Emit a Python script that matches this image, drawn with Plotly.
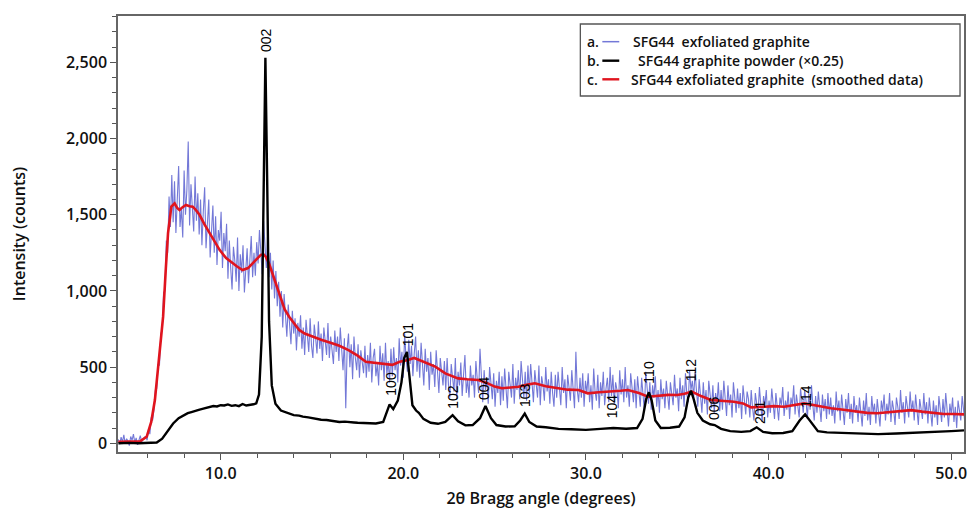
import numpy as np
import plotly.graph_objects as go

# ---------------- data ----------------
# a. SFG44 exfoliated graphite (raw scan, 2theta step 0.075 deg starting at 4.40 deg)
blue_start = 4.40
blue_step = 0.075
blue_y = [
    25, -5, 40, 10, 55, 0, 30, 15, -15, 45, 20, 60, 5, 35, -10, 25, 50, 10, 30, 40,
    45, 20, 90, 60, 170, 150, 220, 350, 360, 520, 510, 720, 740, 990, 1000, 1330, 1250, 1620, 1420, 1760,
    1450, 1720, 1380, 1600, 1820, 1420, 1540, 1350, 1790, 1500, 1660, 1980, 1430, 1700, 1520, 1390, 1750, 1460, 1640, 1370,
    1600, 1300, 1520, 1680, 1280, 1450, 1600, 1220, 1380, 1560, 1250, 1490, 1170, 1400, 1330, 1520, 1150, 1380, 1260, 1440,
    1080, 1330, 1150, 1010, 1290, 1200, 1060, 1350, 1000, 1240, 1120, 1300, 990, 1180, 1280, 1050, 1210, 1360, 1090, 1250,
    1100, 1320, 1180, 1400, 1260, 1110, 1460, 1300, 1150, 1380, 1090, 1250, 1010, 1200, 950, 1130, 900, 1060, 830, 1000,
    760, 980, 830, 700, 910, 780, 650, 870, 720, 820, 610, 790, 700, 840, 620, 760, 580, 810, 690, 600,
    820, 640, 560, 780, 690, 590, 800, 620, 720, 540, 760, 650, 580, 790, 560, 700, 620, 520, 740, 600,
    700, 540, 760, 600, 480, 690, 230, 620, 720, 500, 650, 420, 700, 560, 480, 650, 430, 610, 510, 460,
    640, 430, 580, 470, 660, 400, 560, 620, 440, 520, 380, 640, 480, 590, 410, 660, 450, 540, 400, 620,
    440, 630, 480, 560, 400, 690, 510, 600, 430, 720, 560, 470, 680, 520, 640, 440, 590, 700, 470, 610,
    430, 660, 520, 380, 620, 470, 560, 350, 600, 450, 520, 370, 610, 430, 330, 560, 470, 380, 540, 350,
    560, 380, 300, 520, 430, 340, 560, 290, 470, 380, 530, 310, 450, 580, 330, 420, 300, 510, 380, 450,
    300, 540, 420, 330, 620, 380, 270, 480, 350, 430, 260, 500, 360, 290, 460, 240, 410, 330, 470, 250,
    440, 280, 490, 340, 230, 470, 380, 300, 520, 260, 430, 350, 480, 290, 540, 390, 300, 470, 280, 510,
    330, 520, 410, 270, 480, 360, 300, 510, 250, 440, 380, 280, 500, 340, 420, 260, 470, 330, 240, 450,
    300, 470, 380, 250, 500, 330, 420, 230, 450, 360, 280, 480, 320, 230, 600, 350, 270, 430, 300, 460,
    240, 410, 330, 460, 270, 380, 220, 490, 340, 280, 450, 230, 400, 310, 470, 250, 360, 430, 270, 500,
    310, 450, 260, 400, 350, 230, 480, 320, 420, 270, 500, 300, 380, 240, 460, 330, 270, 420, 230, 440,
    350, 240, 430, 300, 210, 470, 330, 260, 400, 220, 380, 300, 440, 240, 350, 200, 420, 290, 360, 230,
    410, 280, 220, 400, 330, 250, 450, 300, 360, 210, 430, 290, 380, 240, 460, 320, 270, 480, 350, 410,
    300, 470, 350, 240, 420, 310, 200, 400, 260, 350, 190, 410, 300, 230, 380, 200, 330, 260, 400, 210,
    350, 220, 410, 290, 180, 380, 250, 320, 170, 400, 280, 200, 360, 230, 330, 160, 380, 260, 190, 340,
    290, 170, 350, 230, 150, 330, 260, 190, 370, 220, 140, 310, 250, 350, 170, 280, 200, 360, 230, 160,
    330, 210, 150, 300, 250, 370, 180, 280, 220, 340, 160, 300, 250, 380, 190, 320, 230, 170, 360, 260,
    200, 350, 280, 160, 330, 220, 380, 250, 150, 310, 200, 340, 240, 140, 320, 210, 290, 160, 330, 190,
    300, 180, 250, 130, 340, 210, 280, 150, 320, 230, 120, 290, 200, 330, 160, 260, 130, 310, 200, 250,
    140, 300, 220, 110, 280, 180, 330, 150, 240, 120, 310, 200, 260, 130, 290, 170, 110, 280, 210, 320,
    150, 260, 190, 330, 140, 280, 220, 120, 300, 240, 160, 350, 200, 270, 130, 310, 230, 170, 340, 210,
    280, 150, 320, 200, 120, 290, 230, 160, 330, 190, 270, 130, 300, 210, 110, 280, 170, 250, 120, 310,
    200, 140, 290, 170, 330, 230, 110, 260, 190, 300, 140, 240, 100, 280, 200, 150, 310, 220, 130, 260,
]

# b. SFG44 graphite powder (x0.25)
black_pts = [
    (4.4, 0), (5.0, 3), (5.5, 0), (6.0, 3), (6.5, 5), (6.8, 30), (7.1, 80),
    (7.4, 130), (7.7, 165), (8.0, 185), (8.2, 198), (8.4, 205), (8.6, 214),
    (8.8, 220), (9.0, 226), (9.2, 232), (9.4, 238), (9.6, 245), (9.8, 242),
    (10.0, 250), (10.2, 248), (10.4, 255), (10.6, 246), (10.8, 250),
    (11.0, 244), (11.2, 258), (11.4, 248), (11.6, 250), (11.8, 256),
    (11.95, 262), (12.1, 320), (12.25, 700), (12.35, 1500), (12.45, 2530),
    (12.55, 1700), (12.65, 800), (12.8, 380), (13.0, 260), (13.3, 215),
    (13.6, 200), (14.0, 185), (14.3, 182), (14.5, 175), (14.8, 170), (15.0, 165),
    (15.3, 160), (15.5, 155), (15.8, 153), (16.0, 150), (16.3, 146), (16.5, 140),
    (16.8, 142), (17.0, 138), (17.3, 137), (17.5, 135), (17.8, 134), (18.0, 132),
    (18.5, 130), (18.9, 140), (19.1, 210), (19.25, 255), (19.45, 225),
    (19.7, 280), (19.9, 400), (20.05, 560), (20.2, 600), (20.35, 430),
    (20.5, 250), (20.7, 215), (20.85, 200), (21.1, 160), (21.5, 135),
    (21.9, 128), (22.3, 140), (22.7, 185), (23.0, 145), (23.4, 118),
    (23.8, 120), (24.2, 165), (24.5, 245), (24.8, 165), (25.1, 120),
    (25.6, 110), (26.1, 112), (26.4, 150), (26.65, 195), (26.9, 140),
    (27.3, 110), (27.8, 105), (28.5, 95), (29.2, 92), (30.0, 88),
    (30.8, 95), (31.5, 100), (32.2, 96), (32.8, 100), (33.1, 160),
    (33.3, 290), (33.45, 335), (33.6, 280), (33.8, 150), (34.1, 100),
    (34.6, 102), (35.1, 110), (35.4, 170), (35.6, 300), (35.75, 345),
    (35.9, 290), (36.1, 200), (36.4, 150), (36.8, 125), (37.05, 120),
    (37.4, 95), (37.9, 80), (38.5, 75), (39.0, 80), (39.35, 105),
    (39.7, 75), (40.2, 66), (40.8, 68), (41.3, 80), (41.7, 150),
    (42.0, 190), (42.3, 140), (42.7, 80), (43.2, 72), (44.0, 68),
    (45.0, 62), (46.0, 60), (47.0, 64), (48.0, 68), (49.0, 72),
    (50.0, 80), (50.7, 85),
]

# c. SFG44 exfoliated graphite (smoothed data)
red_x = [4.4, 5.0, 5.6, 5.95, 6.2, 6.4, 6.6, 6.85, 7.0, 7.12,
         7.3, 7.48, 7.62, 7.75, 7.9, 8.1, 8.3, 8.47, 8.65, 8.85,
         9.1, 9.4, 9.7, 9.95, 10.3, 10.65, 10.9, 11.2, 11.5, 11.75,
         12.0, 12.2, 12.35, 12.47, 12.65, 12.83, 13.05, 13.3, 13.5, 13.75,
         14.0, 14.3, 14.6, 15.0, 15.5, 16.1, 16.5, 17.0, 17.5, 17.95,
         18.5, 19.0, 19.4, 19.8, 20.2, 20.6, 21.0, 21.3, 21.75, 22.3,
         23.0, 23.5, 24.1, 24.6, 25.0, 25.4, 25.8, 26.3, 26.8, 27.2,
         27.8, 28.5, 29.0, 29.6, 30.1, 30.7, 31.4, 31.9, 32.3, 32.9,
         33.4, 34.0, 34.5, 35.0, 35.4, 35.8, 36.3, 36.85, 37.5, 38.1,
         38.6, 39.05, 39.8, 40.3, 40.85, 41.4, 41.95, 42.6, 43.4, 44.0,
         44.8, 45.4, 45.95, 46.6, 47.2, 47.8, 48.4, 49.0, 49.6, 50.1, 50.7]
red_y = [10, 12, 14, 43, 140, 284, 520, 831, 1150, 1380,
         1553, 1575, 1545, 1531, 1548, 1564, 1556, 1553, 1530, 1498,
         1440, 1378, 1320, 1268, 1215, 1181, 1160, 1137, 1150, 1181,
         1210, 1236, 1240, 1225, 1180, 1115, 1030, 940, 880, 831,
         790, 744, 720, 700, 680, 656, 640, 612, 575, 535,
         528, 525, 515, 535, 545, 560, 540, 528, 503, 459,
         426, 420, 415, 395, 372, 361, 366, 371, 385, 394,
         375, 361, 352, 350, 328, 335, 339, 345, 350, 330,
         306, 312, 318, 317, 325, 339, 310, 284, 280, 273,
         262, 236, 240, 244, 240, 252, 262, 248, 230, 222,
         210, 200, 197, 206, 212, 218, 208, 200, 192, 192, 190]

# peak (hkl) labels: text, 2theta, label centre height
peak_text = ["002", "100", "101", "102", "004", "103", "104", "110", "112", "006", "201", "114"]
peak_x = [12.49, 19.35, 20.27, 22.73, 24.46, 26.67, 31.4, 33.45, 35.75, 37.05, 39.5, 42.05]
peak_y = [2647, 394, 717, 306, 361, 317, 240, 470, 485, 230, 208, 306]

legend_labels = ["SFG44\u00a0 exfoliated graphite",
                 "SFG44 graphite powder (\u00d70.25)",
                 "SFG44 exfoliated graphite\u00a0 (smoothed data)"]
legend_prefix = ["a.", "b.", "c."]

# ---------------- figure ----------------
blue_x = blue_start + blue_step * np.arange(len(blue_y))
black_x = [p[0] for p in black_pts]
black_y = [p[1] for p in black_pts]

BLUE = "rgba(76,82,204,0.78)"
BLACK = "#000000"
RED = "#e0141e"

fig = go.Figure()
fig.add_trace(go.Scatter(x=blue_x, y=blue_y, mode="lines",
                         line=dict(color=BLUE, width=1.1), name=legend_labels[0],
                         showlegend=False))
fig.add_trace(go.Scatter(x=red_x, y=red_y, mode="lines",
                         line=dict(color=RED, width=2.6), name=legend_labels[2],
                         showlegend=False))
fig.add_trace(go.Scatter(x=black_x, y=black_y, mode="lines",
                         line=dict(color=BLACK, width=2.4), name=legend_labels[1],
                         showlegend=False))

for t, xv, yv in zip(peak_text, peak_x, peak_y):
    fig.add_annotation(x=xv, y=yv, xref="x", yref="y", text=t, textangle=-90,
                       showarrow=False, xanchor="center", yanchor="middle",
                       font=dict(family="Liberation Sans, Arial", size=14,
                                 color="#000", weight=400))

# custom legend (prefix letter before the line sample)
shapes = [dict(type="rect", xref="paper", yref="paper", x0=0.5465, x1=0.9953,
               y0=0.8165, y1=0.9817, line=dict(color="#555", width=1.3),
               fillcolor="white", layer="above")]
rows_y = [0.9411, 0.8975, 0.8548]
sample_colors = [BLUE, BLACK, RED]
sample_widths = [1.5, 2.4, 2.4]
text_x = [0.6066, 0.6125, 0.6043]
for i in range(3):
    shapes.append(dict(type="line", xref="paper", yref="paper",
                       x0=0.5725, x1=0.5925, y0=rows_y[i], y1=rows_y[i],
                       line=dict(color=sample_colors[i], width=sample_widths[i]),
                       layer="above"))
    fig.add_annotation(x=0.5525, y=rows_y[i], xref="paper", yref="paper",
                       text=legend_prefix[i], showarrow=False,
                       xanchor="left", yanchor="middle",
                       font=dict(family="Open Sans", size=14, color="#111", weight=600))
    fig.add_annotation(x=text_x[i], y=rows_y[i], xref="paper", yref="paper",
                       text=legend_labels[i], showarrow=False,
                       xanchor="left", yanchor="middle",
                       font=dict(family="Open Sans", size=14, color="#111", weight=600))

fig.update_layout(
    width=974, height=513,
    margin=dict(l=118, r=7, t=16, b=61),
    paper_bgcolor="white", plot_bgcolor="white",
    shapes=shapes,
    showlegend=False,
    separators=".,",
    font=dict(family="Open Sans", size=16, color="#111", weight=600),
)
fig.update_xaxes(
    range=[4.38, 50.7], showgrid=False, zeroline=False,
    showline=True, linecolor="#666", linewidth=1.5, mirror=True,
    ticks="outside", tickmode="linear", tick0=0, dtick=10, ticklen=6,
    tickcolor="#555", tickwidth=1.3, tickformat=".1f",
    tickfont=dict(family="Open Sans", size=16, color="#111", weight=600),
    minor=dict(ticks="outside", dtick=2, tick0=0, ticklen=4, tickcolor="#555", tickwidth=1.2),
    title=dict(text="2\u03b8 Bragg angle (degrees)", standoff=10,
               font=dict(family="Open Sans", size=16, color="#111", weight=600)),
)
fig.update_yaxes(
    range=[-57, 2804], showgrid=False, zeroline=False,
    showline=True, linecolor="#666", linewidth=1.5, mirror=True,
    ticks="outside", tickmode="linear", tick0=0, dtick=500, ticklen=6,
    tickcolor="#555", tickwidth=1.3, tickformat=",d",
    tickfont=dict(family="Open Sans", size=16, color="#111", weight=600),
    minor=dict(ticks="outside", dtick=100, tick0=0, ticklen=4, tickcolor="#555", tickwidth=1.2),
    title=dict(text="Intensity (counts)", standoff=36,
               font=dict(family="Open Sans", size=16, color="#111", weight=600)),
)

fig.write_html("out.html", config={"displayModeBar": False},
               post_script="document.body.style.margin='0';document.body.style.overflow='hidden';")
